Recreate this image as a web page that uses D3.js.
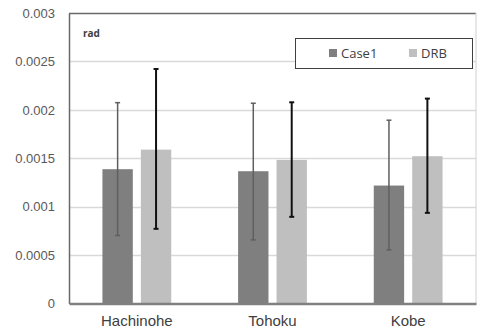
<!DOCTYPE html>
<html><head><meta charset="utf-8">
<script src="https://cdn.jsdelivr.net/npm/d3@7"></script>
<style>body{margin:0;background:#fff}svg{display:block}</style>
</head><body>
<script>
const categories = ["Hachinohe", "Tohoku", "Kobe"];
const seriesNames = ["Case1", "DRB"];
const case1Values = [0.001387, 0.001366, 0.001218];
const drbValues = [0.001589, 0.001483, 0.001521];
const case1ErrLow = [0.000702, 0.000657, 0.000554];
const case1ErrHigh = [0.002074, 0.002068, 0.001893];
const drbErrLow = [0.000771, 0.000895, 0.000936];
const drbErrHigh = [0.002422, 0.002078, 0.002116];
const yTicks = [0, 0.0005, 0.001, 0.0015, 0.002, 0.0025, 0.003];
const yTickLabels = ["0", "0.0005", "0.001", "0.0015", "0.002", "0.0025", "0.003"];
const colors = ["#7f7f7f", "#bfbfbf"];
const errColors = ["#5f5f5f", "#111111"];

const W = 478, H = 334;
const m = {left: 69, right: 2, top: 13, bottom: 31};
const svg = d3.select("body").append("svg").attr("width", W).attr("height", H)
  .style("font-family", "'Open Sans', 'Noto Sans', sans-serif");

const x = d3.scaleBand().domain(categories).range([m.left, W - m.right]).paddingInner(0).paddingOuter(0);
const x1 = d3.scaleBand().domain(seriesNames).range([0, x.bandwidth()]).paddingInner(0.21).paddingOuter(0.87);
const y = d3.scaleLinear().domain([0, 0.003]).range([H - m.bottom + 0.5, m.top]);

// gridlines
svg.append("g").selectAll("line").data(yTicks.slice(1, -1)).join("line")
  .attr("x1", m.left).attr("x2", W - m.right)
  .attr("y1", d => Math.round(y(d)) + 0.5).attr("y2", d => Math.round(y(d)) + 0.5)
  .attr("stroke", "#d9d9d9").attr("stroke-width", 1.5);

// frame
svg.append("line").attr("x1", m.left).attr("x2", W - m.right).attr("y1", m.top + 0.5).attr("y2", m.top + 0.5)
  .attr("stroke", "#6a6a6a").attr("stroke-width", 1.5);
svg.append("line").attr("x1", W - m.right).attr("x2", W - m.right).attr("y1", m.top).attr("y2", y(0))
  .attr("stroke", "#d0d0d0").attr("stroke-width", 1);

const data = categories.map((c, i) => ({
  c,
  vals: [
    {s: seriesNames[0], v: case1Values[i], lo: case1ErrLow[i], hi: case1ErrHigh[i], k: 0},
    {s: seriesNames[1], v: drbValues[i], lo: drbErrLow[i], hi: drbErrHigh[i], k: 1}
  ]
}));

const g = svg.append("g").selectAll("g").data(data).join("g")
  .attr("transform", d => `translate(${x(d.c)},0)`);
g.selectAll("rect").data(d => d.vals).join("rect")
  .attr("x", d => x1(d.s)).attr("width", x1.bandwidth())
  .attr("y", d => y(d.v)).attr("height", d => y(0) - y(d.v))
  .attr("fill", d => colors[d.k]);

// error bars
const eb = g.selectAll("g.eb").data(d => d.vals).join("g").attr("class", "eb");
eb.append("line")
  .attr("x1", d => x1(d.s) + x1.bandwidth() / 2).attr("x2", d => x1(d.s) + x1.bandwidth() / 2)
  .attr("y1", d => y(d.hi)).attr("y2", d => y(d.lo))
  .attr("stroke", d => errColors[d.k]).attr("stroke-width", d => d.k ? 2 : 1.5);
eb.selectAll("line.cap").data(d => [{d, v: d.hi}, {d, v: d.lo}]).join("line").attr("class", "cap")
  .attr("x1", e => x1(e.d.s) + x1.bandwidth() / 2 - 2.5).attr("x2", e => x1(e.d.s) + x1.bandwidth() / 2 + 2.5)
  .attr("y1", e => y(e.v)).attr("y2", e => y(e.v))
  .attr("stroke", e => errColors[e.d.k]).attr("stroke-width", e => e.d.k ? 2 : 1.5);

// left axis
const yAxis = svg.append("g").attr("transform", `translate(${m.left},0)`)
  .call(d3.axisLeft(y).tickValues(yTicks).tickFormat((d, i) => yTickLabels[i]).tickSize(0).tickPadding(14));
yAxis.select(".domain").attr("stroke", "#6a6a6a").attr("stroke-width", 1.5);
yAxis.selectAll("text").attr("fill", "#595959").style("font-size", "13px");

// bottom axis
const xAxis = svg.append("g").attr("transform", `translate(0,${y(0)})`)
  .call(d3.axisBottom(x).tickSize(0).tickPadding(12));
xAxis.select(".domain").attr("stroke", "#808080").attr("stroke-width", 2.5);
xAxis.selectAll("text").attr("fill", "#404040").style("font-size", "15px");

// unit label
svg.append("text").attr("x", 83).attr("y", 37).text("rad")
  .attr("fill", "#404040").style("font-size", "10px").style("font-weight", "bold");

// legend
const lg = svg.append("g");
lg.append("rect").attr("x", 295.5).attr("y", 38.5).attr("width", 177).attr("height", 30)
  .attr("fill", "#fff").attr("stroke", "#404040").attr("stroke-width", 1);
const lx = [329, 409];
seriesNames.forEach((s, i) => {
  lg.append("rect").attr("x", lx[i]).attr("y", 49).attr("width", 8).attr("height", 8).attr("fill", colors[i]);
  lg.append("text").attr("x", lx[i] + 12).attr("y", 57.5).text(s)
    .attr("fill", "#404040").style("font-size", "13px");
});
</script>
</body></html>
